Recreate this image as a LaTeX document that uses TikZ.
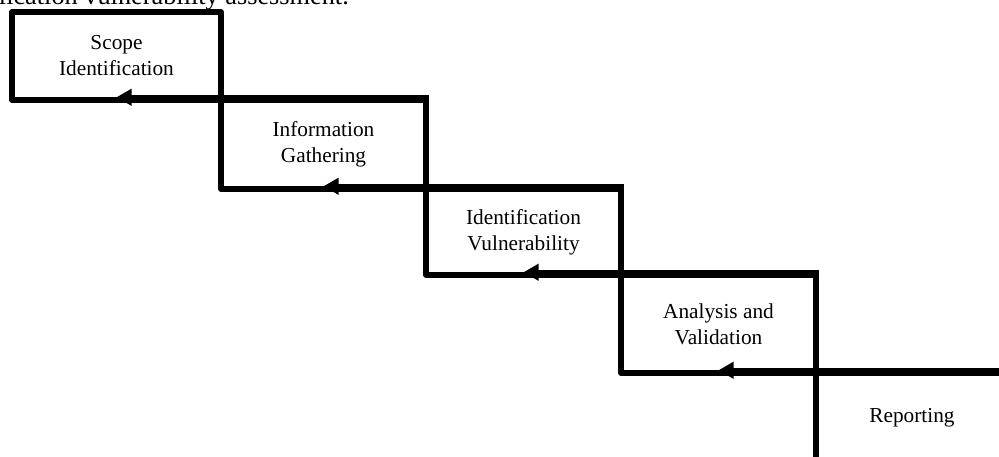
\documentclass[tikz,border=0pt]{standalone}
\usepackage{fontspec}
\setmainfont{Liberation Serif}
\usetikzlibrary{arrows.meta}
\tikzset{
  stagebox/.style={draw=black, line width=5.5pt, line join=round, rectangle, inner sep=0pt,
    align=center, font=\fontsize{21.3}{26}\selectfont},
  flowarrow/.style={draw=black, line width=4pt, -{Triangle[length=15pt,width=16pt]}},
  captiontext/.style={font=\fontsize{26.3}{30}\selectfont, inner sep=0pt}
}
\begin{document}
\begin{tikzpicture}[x=1pt, y=-1pt]
\useasboundingbox (0,0) rectangle (999,456);
\clip (0,0) rectangle (999,456);
\fill[white] (0,0) rectangle (999,456);
\node[captiontext, anchor=base east] (cap) at (349,4.5) {application vulnerability assessment.};
\node[stagebox, minimum width=209pt, minimum height=88pt] (b1) at (116.5,56) {Scope\\Identification};
\node[stagebox, minimum width=205pt, minimum height=89pt] (b2) at (323.5,144.5) {Information\\Gathering};
\node[stagebox, minimum width=195pt, minimum height=86pt] (b3) at (523.5,232) {Identification\\Vulnerability};
\node[stagebox, minimum width=195pt, minimum height=98pt] (b4) at (718.5,324) {Analysis and\\Validation};
\node[stagebox, minimum width=192pt, minimum height=94pt] (b5) at (912,420) {\raisebox{10pt}{Reporting}};
\draw[flowarrow] (b2.north east) -- (b2.north east -| b1.south);
\draw[flowarrow] (b3.north east) -- (b3.north east -| b2.south);
\draw[flowarrow] (b4.north east) -- (b4.north east -| b3.south);
\draw[flowarrow] (b5.north east) -- (b5.north east -| b4.south);
\end{tikzpicture}
\end{document}
